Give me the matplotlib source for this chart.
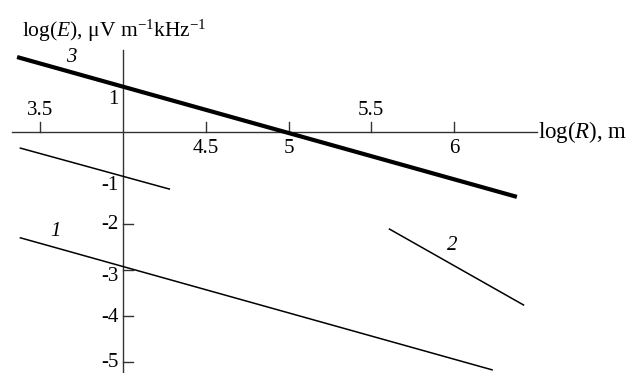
import matplotlib.pyplot as plt

plt.rcParams['font.family'] = 'Liberation Serif'
plt.rcParams['mathtext.fontset'] = 'custom'
plt.rcParams['mathtext.rm'] = 'Liberation Serif'
plt.rcParams['mathtext.it'] = 'Liberation Serif:italic'

# straight-line fits, log(R) vs log(E)
line3_x = [3.36, 6.38]
line3_y = [1.63, -1.41]
line0_x = [3.38, 4.28]
line0_y = [-0.35, -1.24]
line1_x = [3.38, 6.23]
line1_y = [-2.30, -5.17]
line2_x = [5.61, 6.42]
line2_y = [-2.11, -3.76]

xticks_up = [3.5, 5.5]
xticks_down = [4.5, 5, 6]
yticks = [-2, -3, -4, -5]
ylabels = ['1', '-1', '-2', '-3', '-4', '-5']

fig = plt.figure(figsize=(6.32, 3.73), dpi=100)
ax = fig.add_axes([0, 0, 1, 1])
ax.set_xlim(3.2568, 7.0755)
ax.set_ylim(-5.239, 2.870)
ax.axis('off')

# axes through the origin (4, 0)
axc = '#333333'
ax.plot([3.33, 6.5], [0, 0], color=axc, lw=1.0)
ax.plot([4, 4], [-5.3, 1.78], color=axc, lw=1.0)

tx = 10 / 165.5
ty = 10 / 46.0
for v in xticks_up + xticks_down:
    ax.plot([v, v], [0, ty], color=axc, lw=1.0)
for v in yticks:
    ax.plot([4, 4 + tx], [v, v], color=axc, lw=1.0)

fs = 15
for v in xticks_up:
    ax.text(v, 0.27, '%g' % v, ha='center', va='bottom', fontsize=fs)
for v in xticks_down:
    ax.text(v, -0.16, '%g' % v, ha='center', va='top', fontsize=fs)

ypos = [0.70, -1.17, -2.02, -3.15, -4.04, -5.0]
for lab, yp in zip(ylabels, ypos):
    ax.text(3.975, yp, lab, ha='right', va='center', fontsize=fs)

ax.plot(line3_x, line3_y, color='black', lw=3.0, solid_capstyle='butt')
ax.plot(line0_x, line0_y, color='black', lw=1.1)
ax.plot(line1_x, line1_y, color='black', lw=1.1)
ax.plot(line2_x, line2_y, color='black', lw=1.1)

ax.text(3.69, 1.61, '3', style='italic', ha='center', va='center', fontsize=fs)
ax.text(3.59, -2.17, '1', style='italic', ha='center', va='center', fontsize=fs)
ax.text(5.99, -2.46, '2', style='italic', ha='center', va='center', fontsize=fs)

ax.text(3.39, 2.20, r'log($E$), μV m$^{-1}$kHz$^{-1}$', ha='left', va='center', fontsize=15.5)
ax.text(6.51, 0.0, r'log($R$), m', ha='left', va='center', fontsize=16.5)

fig.savefig('out.png', dpi=100)
